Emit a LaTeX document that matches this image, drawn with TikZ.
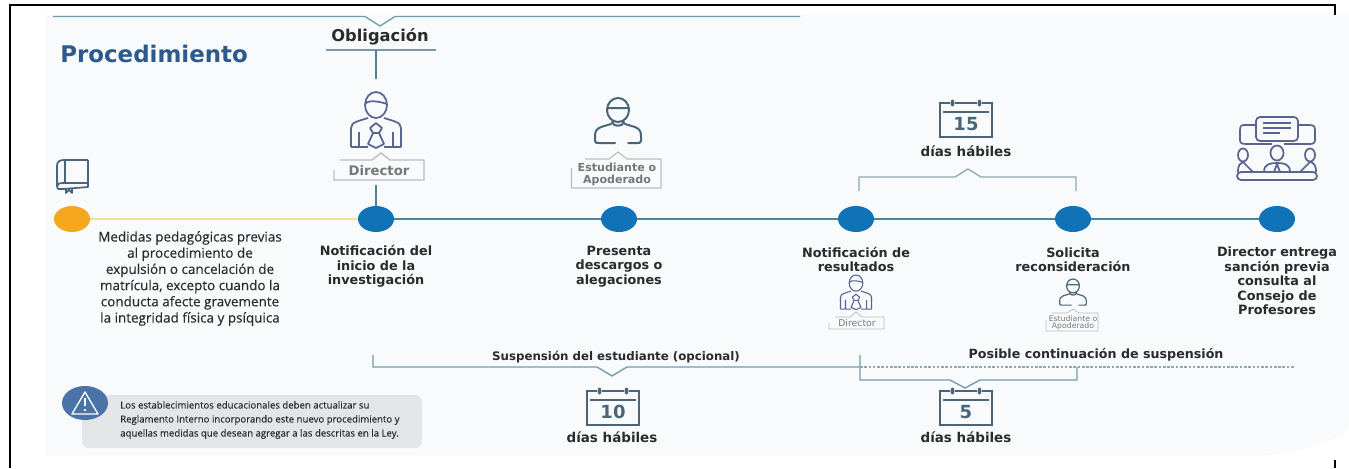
\documentclass[tikz,border=0pt]{standalone}
\usepackage{fontspec}
\setmainfont{Open Sans}
\newfontfamily\headf{DejaVu Sans}
\newfontfamily\bodyf[FakeBold=0.25]{Open Sans}
\usetikzlibrary{shapes.geometric}
\definecolor{bgc}{HTML}{F8FAFC}
\definecolor{dotb}{HTML}{1173B7}
\definecolor{doto}{HTML}{F5A81C}
\definecolor{linet}{HTML}{4F8296}
\definecolor{lineo}{HTML}{F3DDA0}
\definecolor{brk}{HTML}{8FA9B5}
\definecolor{icon}{HTML}{4A6478}
\definecolor{iconp}{HTML}{59648F}
\definecolor{titlec}{HTML}{2C5A8C}
\definecolor{txt}{HTML}{2B2B2B}
\definecolor{graytxt}{HTML}{777777}
\definecolor{boxg}{HTML}{B9BDC0}
\definecolor{warnb}{HTML}{4A73A8}
\definecolor{warnbox}{HTML}{E3E5E8}
\tikzset{
  x=0.75pt,y=-0.75pt,
  stepdot/.style={ellipse,draw=none,fill=dotb,minimum width=27pt,minimum height=19.5pt,inner sep=0pt},
  mainline/.style={draw=linet,line width=1.4pt},
  brack/.style={draw=brk,line width=1pt},
  head/.style={font=\headf\bfseries\fontsize{9.6}{10.9}\selectfont,text=txt,align=center,inner sep=0pt},
  body/.style={font=\bodyf\fontsize{10.1}{12.15}\selectfont,text=txt,align=center,inner sep=0pt},
  role/.style={font=\headf\bfseries\fontsize{8.3}{9}\selectfont,text=graytxt,align=center,inner sep=0pt},
  rolesmall/.style={font=\headf\fontsize{5.8}{5.2}\selectfont,text=graytxt,align=center,inner sep=0pt},
  director/.pic={
    \draw[iconp,line width=#1,line join=round]
      (0,13) ellipse (11 and 13)
      (-11,12) .. controls (-7,7) and (5,10) .. (11,12)
      (-25,55) -- (-25,36) .. controls (-25,30) and (-17,29) .. (-8,26)
      (25,55) -- (25,36) .. controls (25,30) and (17,29) .. (8,26)
      (-17,40) -- (-17,55) (17,40) -- (17,55)
      (-25,55) -- (-8,55) (8,55) -- (25,55)
      (0,31) -- (-6,36) -- (-3,41) -- (-8,52) -- (0,56) -- (8,52) -- (3,41) -- (6,36) -- cycle
      (-3,41) -- (3,41);
  },
  student/.pic={
    \draw[icon,line width=#1,line join=round,line cap=round]
      (0,12) ellipse (11 and 12)
      (-11,10) -- (11,10)
      (-6,24) .. controls (-5,29) and (5,29) .. (6,24)
      (-7,26) -- (-17,29) .. controls (-22,31) and (-23,34) .. (-23,38) -- (-23,43) .. controls (-23,45) and (-21,45) .. (-19,45) -- (-3,45)
      (7,26) -- (17,29) .. controls (22,31) and (23,34) .. (23,38) -- (23,43) .. controls (23,45) and (21,45) .. (19,45) -- (10,45);
  },
  calendar/.pic={
    \draw[icon,line width=1.3pt]
      (-16,0) -- (-26,0) -- (-26,34) -- (26,34) -- (26,0) -- (16,0)
      (-11,0) -- (11,0)
      (-23,9) -- (23,9);
    \fill[icon] (-13.5,0) ellipse (2 and 3.5) (13.5,0) ellipse (2 and 3.5);
    \node[font=\headf\bfseries\fontsize{13.5}{15}\selectfont,text=icon,inner sep=0pt] (num) at (0,21) {#1};
  },
}
\begin{document}
\begin{tikzpicture}
\useasboundingbox (0,0) rectangle (1349,468);
\fill[white] (0,0) rectangle (1349,468);
% background
\fill[bgc] (45,15) -- (1349,15) -- (1349,428) .. controls (1330,445) and (1290,456) .. (1240,456) -- (45,456) -- cycle;
% black frame
\coordinate (fa) at (10,468); \coordinate (fb) at (10,5); \coordinate (fc) at (1335,5); \coordinate (fd) at (1335,15);
\coordinate (fe) at (1335,460); \coordinate (ff) at (1335,468);
\draw[black,line width=1.5pt] (fa) -- (fb) -- (fc) -- (fd);
\draw[black,line width=1.5pt] (fe) -- (ff);
% top bracket
\coordinate (ta) at (53,16.5); \coordinate (tb) at (800,16.5);
\draw[brack,draw=linet!80] (ta) -- (365,16.5) -- (380,26) -- (395,16.5) -- (tb);
% title
\node[font=\headf\bfseries\fontsize{17.2}{20}\selectfont,text=titlec,anchor=west,inner sep=0pt] (title) at (60,54) {Procedimiento};
% obligation
\node[font=\headf\bfseries\fontsize{12.2}{14}\selectfont,text=txt,inner sep=0pt] (oblig) at (380,37) {Obligación};
\coordinate (oa) at (326,50); \coordinate (ob) at (436,50); \coordinate (oc) at (376,50); \coordinate (od) at (376,79);
\draw[brack,draw=linet!80] (oa) -- (ob);
\draw[brack,draw=linet,line width=1.1pt] (oc) -- (od);
% dots
\node[stepdot,fill=doto] (d1) at (72,219) {};
\node[stepdot] (d2) at (376,219) {};
\node[stepdot] (d3) at (619,219) {};
\node[stepdot] (d4) at (856,219) {};
\node[stepdot] (d5) at (1073,219) {};
\node[stepdot] (d6) at (1277,219) {};
\draw[draw=lineo,line width=1.4pt] (d1) -- (d2);
\draw[mainline] (d2) -- (d3);
\draw[mainline] (d3) -- (d4);
\draw[mainline] (d4) -- (d5);
\draw[mainline] (d5) -- (d6);
% book icon
\draw[icon,line width=1.3pt,line join=round] (88,160) -- (64,160) .. controls (59,160) and (57,162) .. (57,166) -- (57,186) .. controls (57,190) and (60,189) .. (63,189) -- (88,187) -- (88,160)
  (65,160) -- (65,183) (57,186) .. controls (58,183) and (60,183) .. (63,183) -- (88,183)
  (66,189) -- (66,193) -- (69,190) -- (72,193) -- (72,189);
% director icon and label
\pic at (376,92) {director=1.3pt};
\draw[boxg,line width=1pt] (334,170) -- (334,180) -- (424,180) -- (424,160) -- (390,160) -- (381,153) -- (372,160) -- (340,160);
\node[role,font=\headf\bfseries\fontsize{9.9}{11}\selectfont] (ldir) at (379,171) {Director};
\coordinate (la) at (376,185); \coordinate (lb) at (376,206);
\draw[brack,draw=linet,line width=1.1pt] (la) -- (lb);
% student icon and label
\pic at (618,98) {student=1.5pt};
\draw[boxg,line width=.8pt] (571.5,168) -- (571.5,188) -- (661,188) -- (661,159) -- (627,159) -- (618,152) -- (609,159) -- (585,159);
\node[role] (lstu) at (617,174) {Estudiante o\\Apoderado};
% 15 calendar
\pic at (966,103) {calendar=15};
\node[head,font=\headf\bfseries\fontsize{10.1}{12}\selectfont] (dh1) at (966,151) {días hábiles};
\coordinate (b1a) at (859,191); \coordinate (b1b) at (1076,191);
\draw[brack,line join=round] (b1a) -- (859,177) -- (955,177) -- (968,169) -- (981,177) -- (1076,177) -- (b1b);
% meeting icon
\begin{scope}[iconp,line width=1.3pt,line join=round]
  \draw (1255,125) -- (1244,125) .. controls (1240,125) and (1240,128) .. (1240,130) -- (1240,140) .. controls (1240,144) and (1243,144) .. (1246,144) -- (1272,144)
        (1299,125) -- (1310,125) .. controls (1315,125) and (1315,128) .. (1315,130) -- (1315,140) .. controls (1315,144) and (1312,144) .. (1308,144) -- (1284,144);
  \draw[fill=bgc,rounded corners=3pt] (1256,117) rectangle (1298,141);
  \draw (1263,123) -- (1291,123) (1263,128) -- (1291,128) (1263,133) -- (1280,133);
  \draw (1277,153) ellipse (6.5 and 7.5);
  \draw (1243,155) ellipse (5 and 6.5) (1310,155) ellipse (5 and 6.5);
  \draw (1264,172) .. controls (1264,164) and (1270,163) .. (1277,163) .. controls (1284,163) and (1290,164) .. (1290,172);
  \draw (1238,172) .. controls (1238,165) and (1240,163) .. (1243,162) -- (1253,172)
        (1316,172) .. controls (1316,165) and (1314,163) .. (1310,162) -- (1300,172);
  \draw[rounded corners=3pt] (1237,172) -- (1237,180) -- (1317,180) -- (1317,172) -- cycle;
  \draw (1277,164) -- (1274,172) -- (1280,172) -- cycle;
\end{scope}
% step labels
\node[body] (t1) at (190,278.5) {Medidas pedagógicas previas\\al procedimiento de\\expulsión o cancelación de\\matrícula, excepto cuando la\\conducta afecte gravemente\\la integridad física y psíquica};
\node[head] (t2) at (376,266.5) {Notificación del\\inicio de la\\investigación};
\node[head] (t3) at (619,266.5) {Presenta\\descargos o\\alegaciones};
\node[head] (t4) at (856,259.5) {Notificación de\\resultados};
\node[head] (t5) at (1073,259.5) {Solicita\\reconsideración};
\node[head] (t6) at (1277,281) {Director entrega\\sanción previa\\consulta al\\Consejo de\\Profesores};
% small icons
\pic[scale=.62] at (856,275) {director=.8pt};
\draw[boxg,line width=.6pt] (829,323) -- (829,329) -- (884,329) -- (884,317) -- (862,317) -- (856,312) -- (850,317) -- (835,317);
\node[rolesmall,font=\headf\fontsize{7}{8}\selectfont] (ldir2) at (857,323) {Director};
\pic[scale=.58] at (1073,279) {student=.9pt};
\draw[boxg,line width=.6pt] (1046,320) -- (1046,331) -- (1098,331) -- (1098,313) -- (1079,313) -- (1073,309) -- (1067,313) -- (1052,313);
\node[rolesmall] (lstu2) at (1073,323) {Estudiante o\\Apoderado};
% lower brackets
\node[head,font=\headf\bfseries\fontsize{8.85}{11}\selectfont] (susp) at (616,357) {Suspensión del estudiante (opcional)};
\node[head,font=\headf\bfseries\fontsize{9.5}{11}\selectfont] (posi) at (1096,355) {Posible continuación de suspensión};
\coordinate (s1) at (373,355); \coordinate (s2) at (860,367);
\draw[brack,draw=linet!80] (s1) -- (373,367) -- (597,367) -- (612,376) -- (627,367) -- (s2);
\coordinate (c1) at (860,355); \coordinate (c2) at (1077,367);
\draw[brack,draw=linet!80] (c1) -- (860,380) -- (950,380) -- (965,388) -- (980,380) -- (1077,380) -- (c2);
\coordinate (dl1) at (860,367); \coordinate (dl2) at (1295,367);
\draw[brk,line width=1pt,dash pattern=on 2pt off 1.2pt] (dl1) -- (dl2);
\pic at (613,391) {calendar=10};
\node[head,font=\headf\bfseries\fontsize{10.1}{12}\selectfont] (dh2) at (612,437) {días hábiles};
\pic at (966,391) {calendar=5};
\node[head,font=\headf\bfseries\fontsize{10.1}{12}\selectfont] (dh3) at (966,437) {días hábiles};
% warning
\fill[warnbox,rounded corners=5pt] (82,395) rectangle (422,448);
\fill[warnb] (85,403) ellipse (23 and 17);
\draw[white,line width=1pt,line join=round] (85,392) -- (72,414) -- (98,414) -- cycle;
\draw[white,line width=1.4pt] (85,398) -- (85,406) (85,409) -- (85,411);
\node[font=\bodyf\fontsize{7.2}{10.5}\selectfont,text=txt,align=left,anchor=west,inner sep=0pt] (warn) at (120,420) {Los establecimientos educacionales deben actualizar su\\Reglamento Interno incorporando este nuevo procedimiento y\\aquellas medidas que desean agregar a las descritas en la Ley.};
\end{tikzpicture}
\end{document}
